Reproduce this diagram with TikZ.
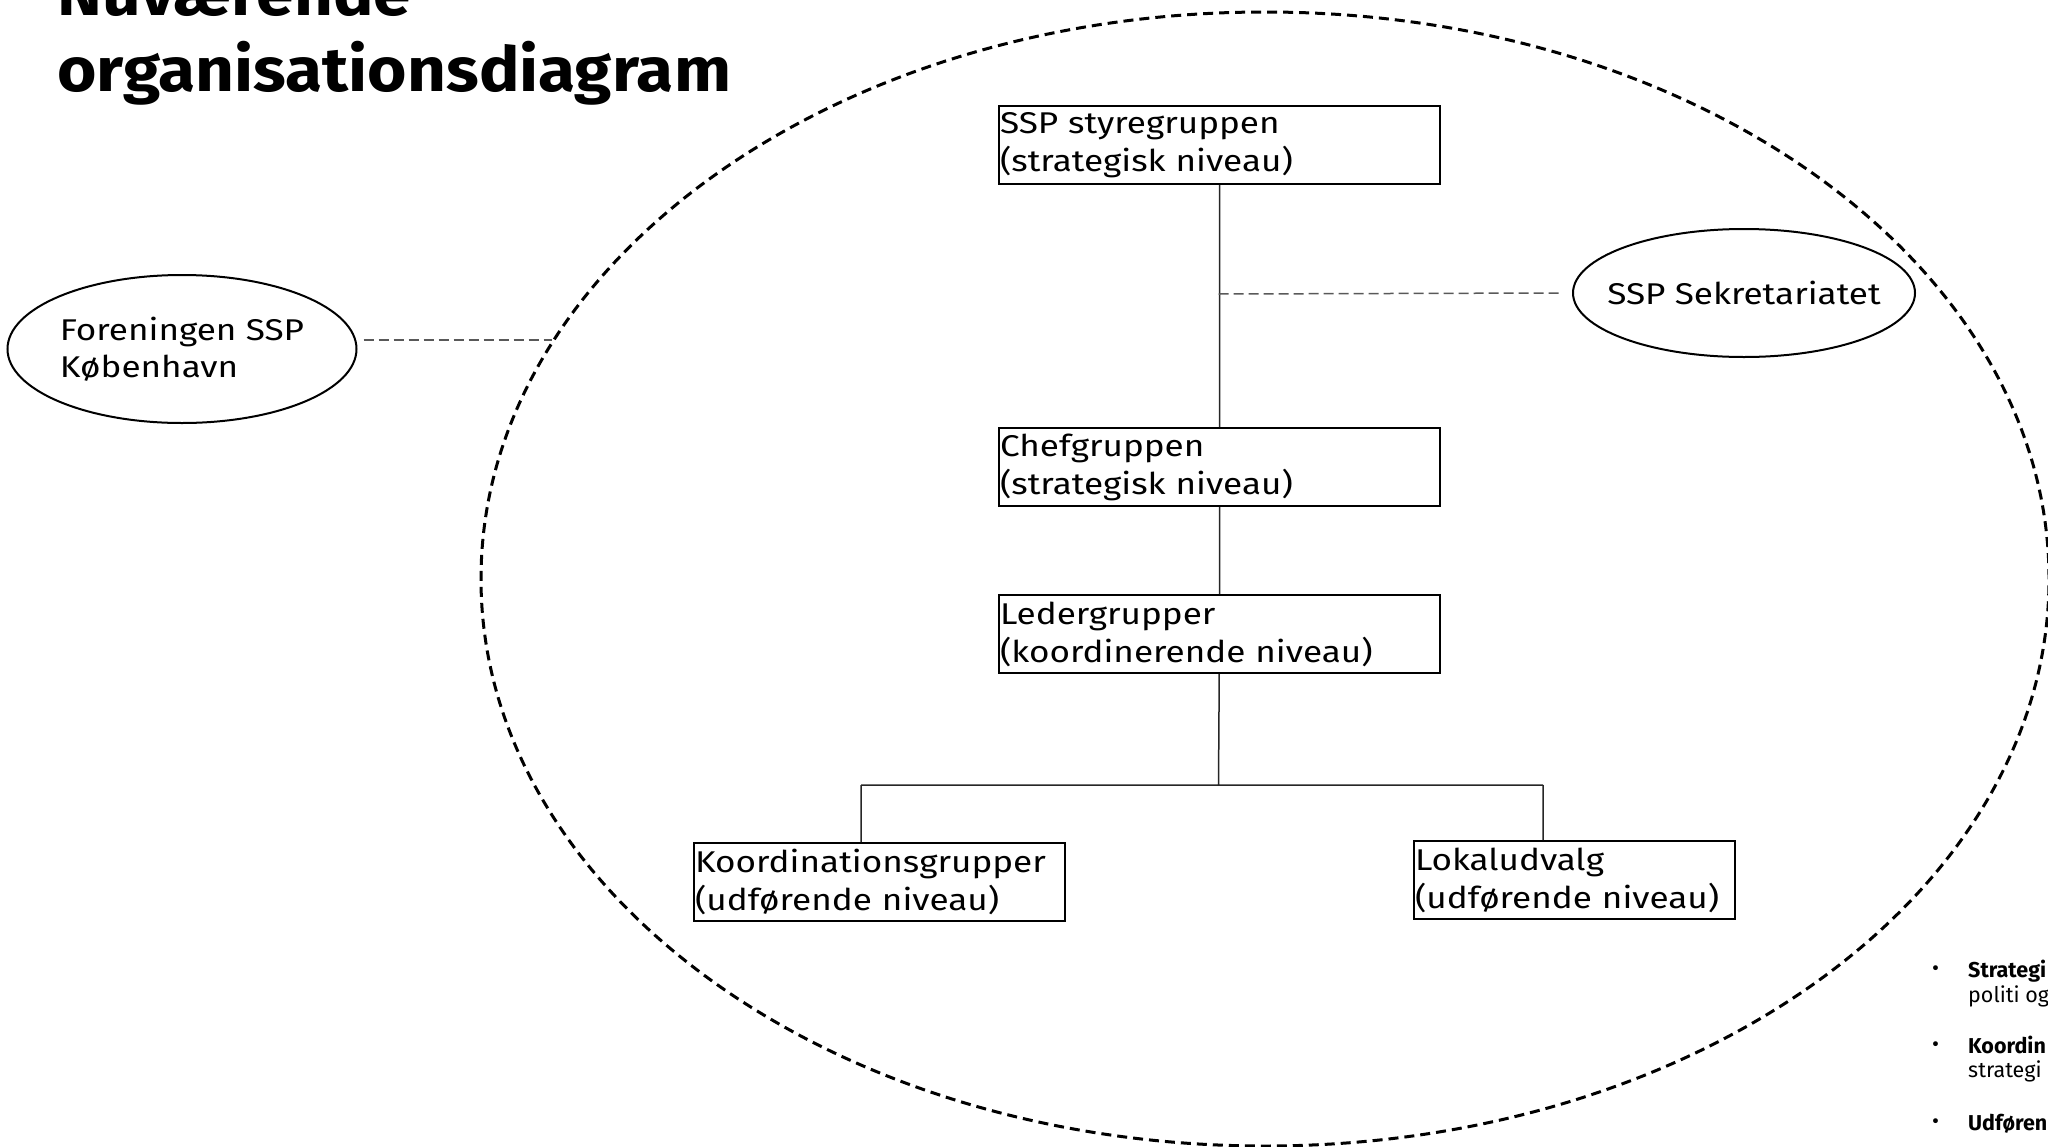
\documentclass[tikz,border=0pt]{standalone}
\usepackage{fontspec}
\setmainfont{Fira Sans}
\newfontfamily\boksfont{Fira Sans}[FakeStretch=1.17]
\newfontfamily\titelfont{Fira Sans}[FakeStretch=1.09]
\usetikzlibrary{shapes.geometric}

\tikzset{
  niveau/.style={draw, line width=2pt, rectangle, anchor=north west, inner xsep=1pt, inner ysep=0pt,
    minimum height=78pt, align=left, font=\boksfont\fontsize{30}{38}\selectfont},
  enhed/.style={draw, line width=2pt, ellipse, inner xsep=-40pt, inner ysep=-10pt, align=left, font=\boksfont\fontsize{30}{37}\selectfont},
  forbind/.style={line width=1.5pt, black!85},
  stiplet/.style={line width=1.5pt, black!65, dash pattern=on 10pt off 5pt},
  titel/.style={anchor=base west, inner sep=0pt, font=\titelfont\fontsize{62}{70}\selectfont\bfseries},
  note/.style={anchor=base west, inner sep=0pt, font=\fontsize{21.5}{25}\selectfont},
}

\begin{document}
\begin{tikzpicture}[x=1pt, y=-1pt]
  \useasboundingbox (0,0) rectangle (2048,1146);
  \clip (0,0) rectangle (2048,1146);

  % overskrift
  \node[titel] (titel1) at (57,15) {Nuværende};
  \node[titel] (titel2) at (57,91) {organisationsdiagram};

  % ramme
  \node[draw, ellipse, line width=3pt, dash pattern=on 10pt off 6pt, minimum width=1568pt, minimum height=1134pt] (ramme) at (1265,579) {};

  % niveauer
  \node[niveau, text width=439pt] (styre) at (998,105)  {SSP styregruppen\\(strategisk niveau)};
  \node[niveau, text width=439pt] (chef)  at (998,427)  {Chefgruppen\\(strategisk niveau)};
  \node[niveau, text width=439pt] (leder) at (998,594)  {Ledergrupper\\(koordinerende niveau)};
  \node[niveau, text width=369pt] (koord) at (693,842)  {Koordinationsgrupper\\(udførende niveau)};
  \node[niveau, text width=319pt] (lokal) at (1413,840) {Lokaludvalg\\(udførende niveau)};

  \node[enhed, minimum width=349pt, minimum height=148pt] (foren) at (182,349) {Foreningen SSP\\København};
  \node[enhed, minimum width=342pt, minimum height=128pt] (sekr)  at (1744,293) {SSP Sekretariatet};

  \coordinate (gren)    at (1218.5,785);
  \coordinate (venstre) at (861,785);
  \coordinate (hoejre)  at (1543,785);
  \coordinate (sekrled) at (1218.5,294);
  \coordinate (kant)    at (552,340);

  \draw[forbind] (styre) -- (chef)
                 (chef) -- (leder)
                 (leder) -- (gren)
                 (venstre) -- (hoejre)
                 (venstre) -- (venstre |- koord.north)
                 (hoejre) -- (hoejre |- lokal.north);

  \draw[stiplet] (sekrled) -- ([xshift=-13pt]sekr.west);
  \draw[stiplet] ([xshift=6pt]foren.east |- kant) -- (kant);

  % noter
  \node[note] (b1) at (1932,975)  {•};
  \node[note] (n1) at (1968,977)  {\textbf{Strategi}};
  \node[note] (n2) at (1968,1002) {politi og};
  \node[note] (b2) at (1932,1051) {•};
  \node[note] (n3) at (1968,1053) {\textbf{Koordin}};
  \node[note] (n4) at (1968,1077) {strategi};
  \node[note] (b3) at (1932,1128) {•};
  \node[note] (n5) at (1968,1130) {\textbf{Udføren}};
\end{tikzpicture}
\end{document}
